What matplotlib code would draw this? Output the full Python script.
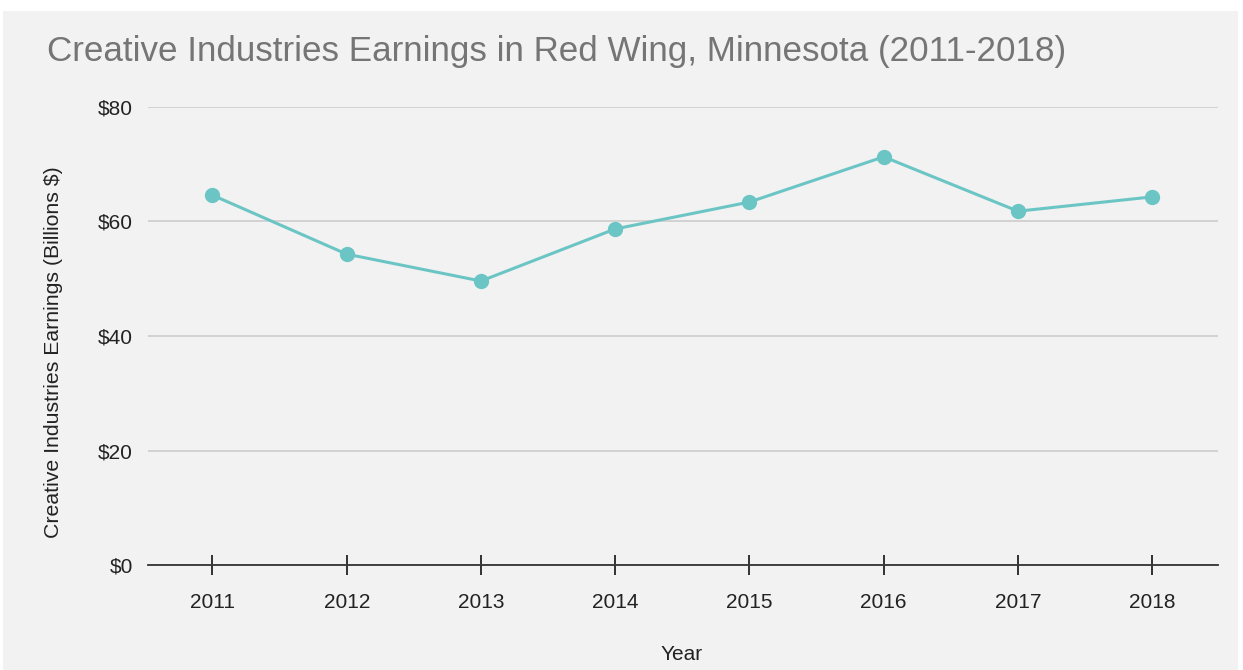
import matplotlib
matplotlib.use("Agg")
import matplotlib.pyplot as plt
from matplotlib.patches import Rectangle

years = [2011, 2012, 2013, 2014, 2015, 2016, 2017, 2018]
earnings = [64.6, 54.3, 49.6, 58.7, 63.4, 71.3, 61.8, 64.3]
y_ticks = [0, 20, 40, 60, 80]
y_tick_labels = ["$0", "$20", "$40", "$60", "$80"]

TEAL = "#6cc5c5"
BG = "#f2f2f2"

plt.rcParams["font.family"] = ["Liberation Sans", "DejaVu Sans"]

W, H = 1243, 670
fig = plt.figure(figsize=(W / 100, H / 100), dpi=100, facecolor="white")
# gray panel behind the chart
fig.patches.append(Rectangle((3 / W, 0), 1 - 8 / W, 1 - 11 / H, transform=fig.transFigure,
                             facecolor=BG, edgecolor="none", zorder=-10))

ax = fig.add_axes([148 / W, 1 - 565 / H, (1218 - 148) / W, (565 - 107) / H])
ax.patch.set_visible(False)

ax.plot(years, earnings, color=TEAL, lw=2.2, marker="o", ms=10, zorder=3, clip_on=False)

ax.set_xlim(2010.52, 2018.49)
ax.set_ylim(0, 80)
ax.set_xticks(years)
ax.set_xticklabels([str(y) for y in years])
ax.set_yticks(y_ticks)
ax.set_yticklabels(y_tick_labels)

ax.yaxis.grid(True, color="#cccccc", lw=1.2)
ax.set_axisbelow(True)
for s in ["top", "right", "left"]:
    ax.spines[s].set_visible(False)
ax.spines["bottom"].set_color("#333333")
ax.spines["bottom"].set_linewidth(1.3)
ax.spines["bottom"].set_zorder(2)

ax.tick_params(axis="y", length=0, pad=11, labelsize=15, labelcolor="#222222")
ax.tick_params(axis="x", direction="inout", length=15, width=1.3, color="#222222",
               pad=12.5, labelsize=15, labelcolor="#222222")

fig.text(47 / W, 1 - 52 / H, "Creative Industries Earnings in Red Wing, Minnesota (2011-2018)",
         fontsize=25.2, color="#757575", va="center", ha="left")
fig.text(54 / W, 1 - 352 / H, "Creative Industries Earnings (Billions $)", rotation=90,
         fontsize=15.3, color="#222222", va="center", ha="center")
fig.text(682 / W, 1 - 655 / H, "Year", fontsize=15, color="#222222", va="center", ha="center")

fig.savefig("out.png", dpi=100, facecolor="white")
